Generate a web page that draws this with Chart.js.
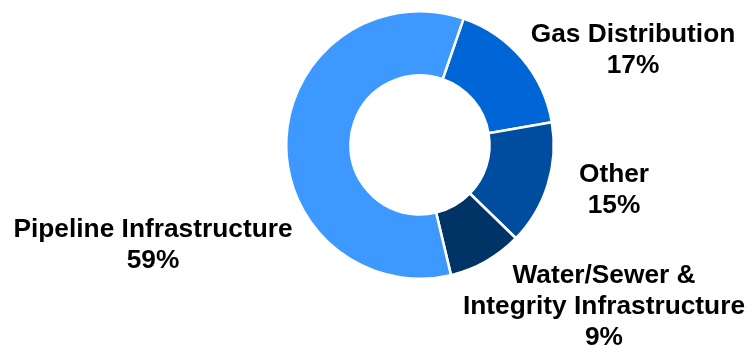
<!DOCTYPE html>
<html>
<head>
<meta charset="utf-8">
<script src="https://cdn.jsdelivr.net/npm/chart.js@4/dist/chart.umd.min.js"></script>
<style>
  html, body { margin: 0; padding: 0; background: #fff; }
  #wrap { width: 753px; height: 347px; position: relative; }
</style>
</head>
<body>
<div id="wrap"><canvas id="segmentChart"></canvas></div>
<script>
// Segment shares (percent), in clockwise order from the top
const segments = ['Gas Distribution', 'Other', 'Water/Sewer & Integrity Infrastructure', 'Pipeline Infrastructure'];
const shares = [17, 15, 9, 59];
const colors = ['#0066D6', '#004C9F', '#003366', '#3D99FF'];

// Label text lines for each segment
const labelLines = [
    ['Gas Distribution', '17%'],
    ['Other', '15%'],
    ['Water/Sewer &', 'Integrity Infrastructure', '9%'],
    ['Pipeline Infrastructure', '59%']
];
// Label anchor offset from doughnut centre (x, y of first line)
const labelOffsets = [[213, -110], [194, 30], [184, 131], [-267, 85]];

const outsideLabels = {
    id: 'outsideLabels',
    afterDatasetsDraw(chart) {
        const ctx = chart.ctx;
        const arc = chart.getDatasetMeta(0).data[0];
        const cx = arc.x, cy = arc.y;
        ctx.save();
        ctx.fillStyle = '#000';
        ctx.font = 'bold 26.3px "Liberation Sans", Arial, sans-serif';
        ctx.textAlign = 'center';
        ctx.textBaseline = 'middle';
        labelLines.forEach((lines, i) => {
            const [dx, dy] = labelOffsets[i];
            lines.forEach((line, j) => {
                ctx.fillText(line, cx + dx, cy + dy + j * 30.7);
            });
        });
        ctx.restore();
    }
};

const ctx = document.getElementById('segmentChart').getContext('2d');
new Chart(ctx, {
    type: 'doughnut',
    data: {
        labels: segments,
        datasets: [{
            data: shares,
            backgroundColor: colors,
            borderColor: '#ffffff',
            borderWidth: 2.5
        }]
    },
    options: {
        responsive: true,
        maintainAspectRatio: false,
        animation: false,
        rotation: 19,
        cutout: '52%',
        layout: {
            padding: { top: 10, bottom: 67, left: 200, right: 113 }
        },
        plugins: {
            legend: { display: false },
            tooltip: { enabled: false }
        }
    },
    plugins: [outsideLabels]
});
</script>
</body>
</html>
